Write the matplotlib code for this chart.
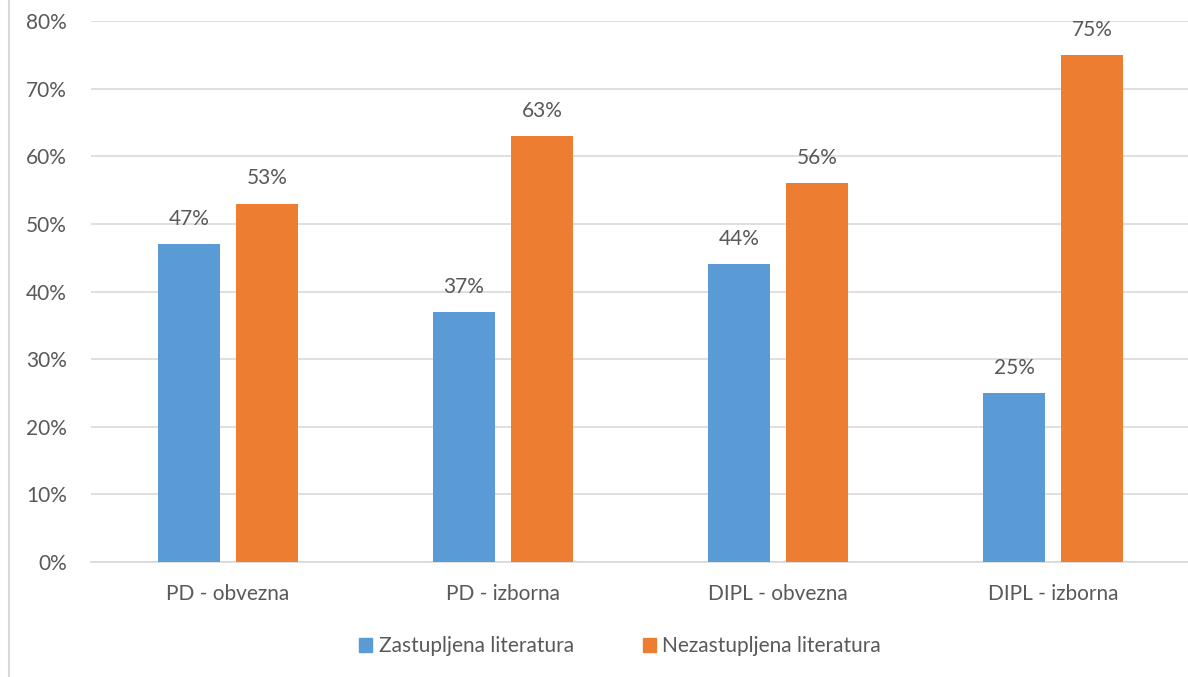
import matplotlib.pyplot as plt
from matplotlib.lines import Line2D
from matplotlib.patches import Patch
import numpy as np

categories = ["PD - obvezna", "PD - izborna", "DIPL - obvezna", "DIPL - izborna"]
series_names = ["Zastupljena literatura", "Nezastupljena literatura"]
zastupljena = [47, 37, 44, 25]
nezastupljena = [53, 63, 56, 75]
yticks = [0, 10, 20, 30, 40, 50, 60, 70, 80]

blue = "#5B9BD5"
orange = "#ED7D31"
txt = "#595959"
grid = "#D9D9D9"

plt.rcParams['font.family'] = ['Lato', 'DejaVu Sans']
fs = 15

fig = plt.figure(figsize=(11.88, 6.77), dpi=100)
ax = fig.add_axes([90.5/1188, (677-562)/677, 1100/1188, (562-21)/677])

x = np.arange(len(categories))
w = 0.225
off = 0.142
b1 = ax.bar(x - off, zastupljena, w, color=blue, zorder=3)
b2 = ax.bar(x + off, nezastupljena, w, color=orange, zorder=3)

for bars, vals in ((b1, zastupljena), (b2, nezastupljena)):
    for r, v in zip(bars, vals):
        ax.annotate(f"{v}%", (r.get_x() + r.get_width()/2, v), xytext=(0, 11),
                    textcoords="offset points", ha="center", va="bottom",
                    fontsize=fs, color=txt)

ax.set_xlim(-0.5, 3.5)
ax.set_ylim(0, 80)
ax.set_yticks(yticks)
ax.set_yticklabels([f"{t}%" for t in yticks])
ax.set_xticks(x)
ax.set_xticklabels(categories)
ax.tick_params(axis='both', length=0, colors=txt, labelsize=fs)
ax.tick_params(axis='y', pad=17)
ax.tick_params(axis='x', pad=16)
ax.yaxis.grid(True, color=grid, linewidth=1.2, zorder=0)
ax.set_axisbelow(True)
for s in ['top', 'right', 'left']:
    ax.spines[s].set_visible(False)
ax.spines['bottom'].set_color(grid)
ax.spines['bottom'].set_linewidth(1.2)

handles = [Patch(color=blue), Patch(color=orange)]
fig.legend(handles, series_names, loc='center', bbox_to_anchor=(620/1188, 1 - 646/677),
           ncol=2, frameon=False, fontsize=fs, labelcolor=txt,
           handlelength=0.65, handleheight=0.65, handletextpad=0.3, columnspacing=3.3)

fig.add_artist(Line2D([8.5/1188, 8.5/1188], [0, 1], color=grid, linewidth=1.5,
                      transform=fig.transFigure))

fig.savefig("out.png", dpi=100)
